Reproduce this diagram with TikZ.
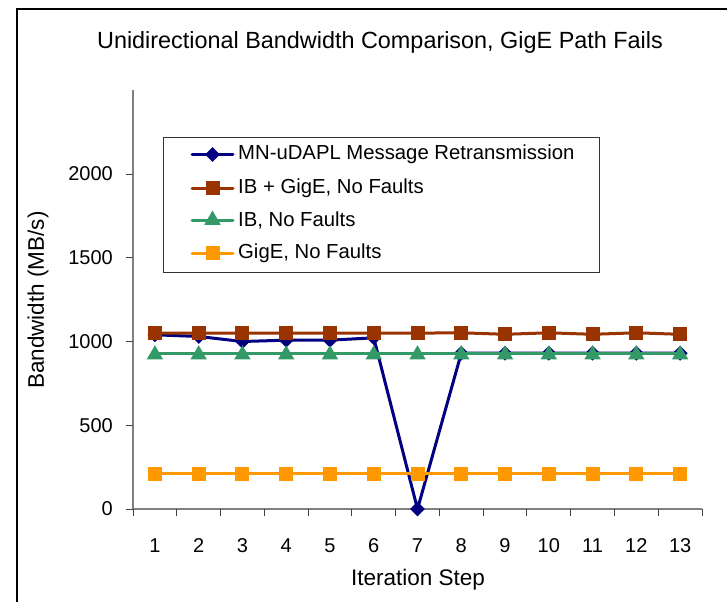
\documentclass[tikz,border=0pt]{standalone}
\usepackage{fontspec}
\setmainfont{Liberation Sans}
\usetikzlibrary{shapes.geometric}

\definecolor{sNavy}{HTML}{000080}
\definecolor{sRust}{HTML}{993300}
\definecolor{sSea}{HTML}{339966}
\definecolor{sAmber}{HTML}{FF9900}
\definecolor{axisgray}{HTML}{808080}

\tikzset{
  axisline/.style={draw=axisgray, line width=1.4pt},
  tickline/.style={draw=black!75, line width=1pt},
  series/.style={line width=3pt, line join=round, line cap=round},
  dmark/.style={diamond, fill=#1, inner sep=0pt, minimum size=15pt},
  smark/.style={rectangle, fill=#1, inner sep=0pt, minimum size=14pt},
  tmark/.style={regular polygon, regular polygon sides=3, fill=#1, inner sep=0pt, minimum size=19pt},
  ticklabel/.style={font=\fontsize{20}{24}\selectfont, inner sep=0pt},
  legendtext/.style={font=\fontsize{20.3}{24}\selectfont, anchor=west, inner sep=0pt},
}

\begin{document}
\begin{tikzpicture}[x=1pt, y=-1pt]
\useasboundingbox (0,0) rectangle (727,602);

% chart frame (open to the right and bottom)
\draw[line width=1.6pt] (17,602) |- (727,9);

% title
\node[font=\fontsize{23.4}{28}\selectfont, inner sep=0pt] (title) at (380,42) {Unidirectional Bandwidth Comparison, GigE Path Fails};

% axes
\coordinate (origin) at (133,509);
\coordinate (ytop) at (133,90);
\coordinate (xend) at (702,509);
\draw[axisline] (ytop) -- (origin) -- (xend);

% y ticks and labels
\foreach \v in {0,500,1000,1500,2000} {
  \coordinate (yt\v) at (133,{509-0.1675*\v});
  \draw[tickline] (yt\v) -- ++(-7,0);
  \node[ticklabel, anchor=east] (yl\v) at ([xshift=-20pt]yt\v) {\v};
}

% x ticks and labels
\foreach \k in {0,...,13} {
  \coordinate (xt\k) at ({133+43.77*\k},509);
  \draw[tickline] (xt\k) -- ++(0,7);
}
\foreach \i in {1,...,13} {
  \node[ticklabel] (xl\i) at ({133+43.77*(\i-0.5)},546) {\i};
}

% axis titles
\node[font=\fontsize{22.5}{27}\selectfont, inner sep=0pt] (xtitle) at (418,580) {Iteration Step};
\node[font=\fontsize{22.5}{27}\selectfont, inner sep=0pt, rotate=90] (ytitle) at (38,300) {Bandwidth (MB/s)};

% data points
\foreach \v [count=\i] in {1040,1030,1000,1008,1008,1022,0,930,930,930,930,930,930}
  \coordinate (b\i) at ({133+43.77*(\i-0.5)},{509-0.1675*\v});
\foreach \v [count=\i] in {1050,1050,1050,1050,1050,1050,1050,1052,1043,1052,1043,1052,1043}
  \coordinate (r\i) at ({133+43.77*(\i-0.5)},{509-0.1675*\v});
\foreach \v [count=\i] in {930,930,930,930,930,930,930,930,930,930,930,930,930}
  \coordinate (g\i) at ({133+43.77*(\i-0.5)},{509-0.1675*\v});
\foreach \v [count=\i] in {210,210,210,210,210,210,210,210,210,210,210,210,210}
  \coordinate (o\i) at ({133+43.77*(\i-0.5)},{509-0.1675*\v});

% MN-uDAPL Message Retransmission
\draw[series, sNavy] (b1) \foreach \i in {2,...,13} {-- (b\i)};
\foreach \i in {1,...,13} \node[dmark=sNavy] (bm\i) at (b\i) {};
% IB + GigE, No Faults
\draw[series, sRust] (r1) \foreach \i in {2,...,13} {-- (r\i)};
\foreach \i in {1,...,13} \node[smark=sRust] (rm\i) at (r\i) {};
% IB, No Faults
\draw[series, sSea] (g1) \foreach \i in {2,...,13} {-- (g\i)};
\foreach \i in {1,...,13} \node[tmark=sSea, yshift=-1.5pt] (gm\i) at (g\i) {};
% GigE, No Faults
\draw[series, sAmber] (o1) \foreach \i in {2,...,13} {-- (o\i)};
\foreach \i in {1,...,13} \node[smark=sAmber] (om\i) at (o\i) {};

% legend
\node[draw=black!80, line width=1pt, minimum width=436pt, minimum height=135pt, anchor=north west, inner sep=0pt] (legend) at (163,137) {};
\foreach \y/\c/\m/\t [count=\n] in {154.5/sNavy/dmark/{MN-uDAPL Message Retransmission},
                                    188/sRust/smark/{IB + GigE, No Faults},
                                    220/sSea/tmark/{IB, No Faults},
                                    253/sAmber/smark/{GigE, No Faults}} {
  \coordinate (la\n) at (192,\y);
  \coordinate (lb\n) at (233,\y);
  \draw[series, \c] (la\n) -- (lb\n);
  \node[\m=\c] (lm\n) at (212.5,\y) {};
  \node[legendtext] (lt\n) at (238,\y) {\t};
}
\end{tikzpicture}
\end{document}
